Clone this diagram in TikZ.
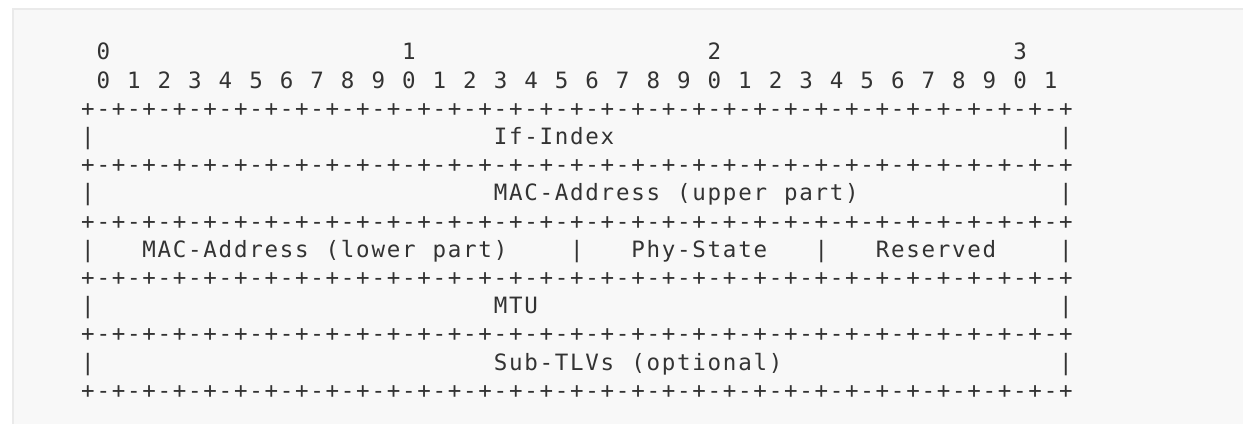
\documentclass[tikz,border=0pt]{standalone}
\usepackage{fontspec}
\newfontfamily\dmono{DejaVu Sans Mono}
\definecolor{ink}{HTML}{333333}
\definecolor{panel}{HTML}{F8F8F8}
\definecolor{panelrule}{HTML}{EAEAEA}
\newlength\cellw
\setlength\cellw{15.28pt}
\ExplSyntaxOn
\NewDocumentCommand\gridtext{m}{\str_map_inline:nn{#1}{\makebox[\cellw][c]{##1}}}
\ExplSyntaxOff
\tikzset{
  ascii/.style={anchor=base west, inner sep=0pt, outer sep=0pt, text=ink,
    font=\dmono\fontsize{22.5}{27}\selectfont},
}
\def\colx#1{80.36+#1*15.28}
\def\rowy#1{59.8+#1*28.2}
\begin{document}
\begin{tikzpicture}[x=1pt,y=-1pt]
\useasboundingbox (0,0) rectangle (1243,424);
\fill[panel] (12,8) rectangle (1243,424);
\draw[panelrule, line width=2pt] (13,424) -- (13,9) -- (1243,9);
% header
\node[ascii] (h0a) at ({\colx{1}},{\rowy{0}}) {\gridtext{0}};
\node[ascii] (h0b) at ({\colx{21}},{\rowy{0}}) {\gridtext{1}};
\node[ascii] (h0c) at ({\colx{41}},{\rowy{0}}) {\gridtext{2}};
\node[ascii] (h0d) at ({\colx{61}},{\rowy{0}}) {\gridtext{3}};
\node[ascii] (h1) at ({\colx{1}},{\rowy{1}}) {\gridtext{0 1 2 3 4 5 6 7 8 9 0 1 2 3 4 5 6 7 8 9 0 1 2 3 4 5 6 7 8 9 0 1}};
% borders
\foreach \r in {2,4,6,8,10,12}{
  \node[ascii] (border\r) at ({\colx{0}},{\rowy{\r}}) {\gridtext{+-+-+-+-+-+-+-+-+-+-+-+-+-+-+-+-+-+-+-+-+-+-+-+-+-+-+-+-+-+-+-+-+}};
}
% side pipes
\foreach \r in {3,5,7,9,11}{
  \node[ascii] (left\r) at ({\colx{0}},{\rowy{\r}}) {\gridtext{|}};
  \node[ascii] (right\r) at ({\colx{64}},{\rowy{\r}}) {\gridtext{|}};
}
% fields
\node[ascii] (ifindex) at ({\colx{27}},{\rowy{3}}) {\gridtext{If-Index}};
\node[ascii] (macup) at ({\colx{27}},{\rowy{5}}) {\gridtext{MAC-Address (upper part)}};
\node[ascii] (maclow) at ({\colx{4}},{\rowy{7}}) {\gridtext{MAC-Address (lower part)}};
\node[ascii] (sep7a) at ({\colx{32}},{\rowy{7}}) {\gridtext{|}};
\node[ascii] (phy) at ({\colx{36}},{\rowy{7}}) {\gridtext{Phy-State}};
\node[ascii] (sep7b) at ({\colx{48}},{\rowy{7}}) {\gridtext{|}};
\node[ascii] (resv) at ({\colx{52}},{\rowy{7}}) {\gridtext{Reserved}};
\node[ascii] (mtu) at ({\colx{27}},{\rowy{9}}) {\gridtext{MTU}};
\node[ascii] (subtlv) at ({\colx{27}},{\rowy{11}}) {\gridtext{Sub-TLVs (optional)}};
\end{tikzpicture}
\end{document}
